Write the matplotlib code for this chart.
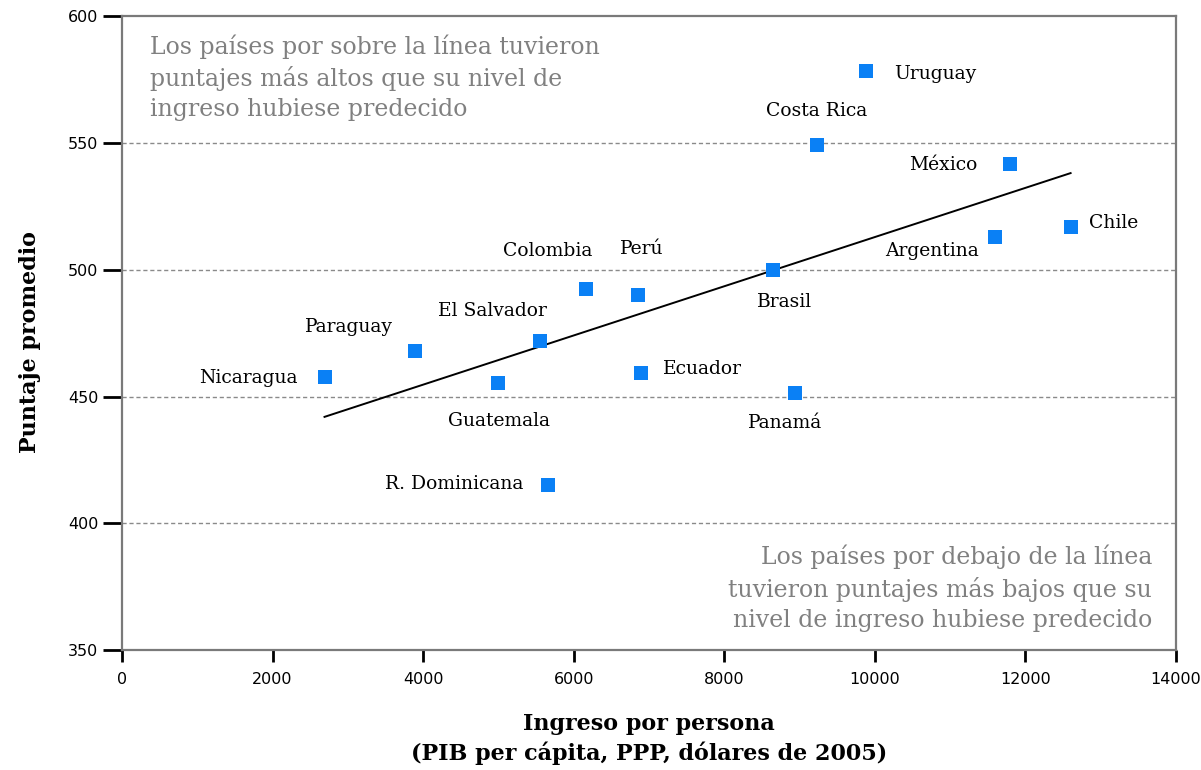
import matplotlib
matplotlib.use("Agg")
import matplotlib.pyplot as plt

countries = ["Uruguay", "Costa Rica", "México", "Chile", "Argentina", "Brasil",
             "Perú", "Colombia", "El Salvador", "Paraguay", "Nicaragua",
             "Guatemala", "Ecuador", "Panamá", "R. Dominicana"]
income = [9880, 9230, 11790, 12600, 11590, 8650, 6850, 6160, 5550, 3890,
          2690, 4990, 6900, 8940, 5660]
score = [578.5, 549.3, 541.8, 516.9, 513.0, 500.0, 490.1, 492.5, 472.0,
         468.0, 457.7, 455.4, 459.3, 451.4, 415.1]
trend_x = [2690, 12600]
trend_y = [442.0, 538.2]

# label placement: (dx px, dy px, ha)
label_pos = {
    "Uruguay": (28, -3, "left"), "Costa Rica": (0, 34, "center"),
    "México": (-32, -1, "right"), "Chile": (18, 4, "left"),
    "Argentina": (-16, -14, "right"), "Brasil": (11, -32, "center"),
    "Perú": (4, 46, "center"), "Colombia": (-38, 38, "center"),
    "El Salvador": (-47, 30, "center"), "Paraguay": (-66, 24, "center"),
    "Nicaragua": (-27, -1, "right"), "Guatemala": (1, -38, "center"),
    "Ecuador": (22, 4, "left"), "Panamá": (-10, -30, "center"),
    "R. Dominicana": (-25, 1, "right"),
}

W, H = 1201, 770
fig = plt.figure(figsize=(W / 100, H / 100), dpi=100)
ax = fig.add_axes([122 / W, 1 - 650 / H, (1176 - 122) / W, (650 - 16.5) / H])

ax.set_xlim(0, 14000)
ax.set_ylim(350, 600)

for y in [400, 450, 500, 550]:
    ax.axhline(y, color="#8a8a8a", lw=1, ls=(0, (3, 2)), zorder=1)

ax.plot(trend_x, trend_y, color="black", lw=1.4, zorder=2)
ax.plot(income, score, ls="none", marker="s", ms=10, color="#0a80f5",
        markeredgewidth=0, zorder=3)

pt = 0.72
for c, x, y in zip(countries, income, score):
    dx, dy, ha = label_pos[c]
    ax.annotate(c, (x, y), xytext=(dx * pt, dy * pt), textcoords="offset points",
                ha=ha, va="center", fontsize=13.5, family="DejaVu Serif",
                color="black")

ax.set_xticks(range(0, 14001, 2000))
ax.set_yticks(range(350, 601, 50))
ax.tick_params(axis="y", direction="out", length=14, width=2, color="black",
               labelsize=11.5, pad=3)
ax.tick_params(axis="x", direction="out", length=8.5, width=2, color="black",
               labelsize=11.5, pad=7)
for lab in ax.get_xticklabels() + ax.get_yticklabels():
    lab.set_family("DejaVu Sans")

for s in ax.spines.values():
    s.set_color("#7a7a7a")
    s.set_linewidth(1.6)

ax.set_ylabel("Puntaje promedio", family="DejaVu Serif", fontweight="bold",
              fontsize=16)
ax.yaxis.set_label_coords(-92 / (1176 - 122), 0.486)
ax.yaxis.label.set_va("center")
ax.set_xlabel("Ingreso por persona\n(PIB per cápita, PPP, dólares de 2005)",
              family="DejaVu Serif", fontweight="bold", fontsize=16,
              linespacing=1.3)
ax.xaxis.set_label_coords(0.5, -(739 - 650) / (650 - 16.5))
ax.xaxis.label.set_va("center")

ax.text(150 / W, 1 - 34.5 / H,
        "Los países por sobre la línea tuvieron\npuntajes más altos que su nivel de\ningreso hubiese predecido",
        transform=fig.transFigure, ha="left", va="top", fontsize=17,
        family="DejaVu Serif", color="#808080", linespacing=1.37)
ax.text(1152 / W, 1 - 632.5 / H,
        "Los países por debajo de la línea\ntuvieron puntajes más bajos que su\nnivel de ingreso hubiese predecido",
        transform=fig.transFigure, ha="right", va="bottom", fontsize=17,
        family="DejaVu Serif", color="#808080", linespacing=1.4,
        multialignment="right")

fig.savefig("out.png", dpi=100)
